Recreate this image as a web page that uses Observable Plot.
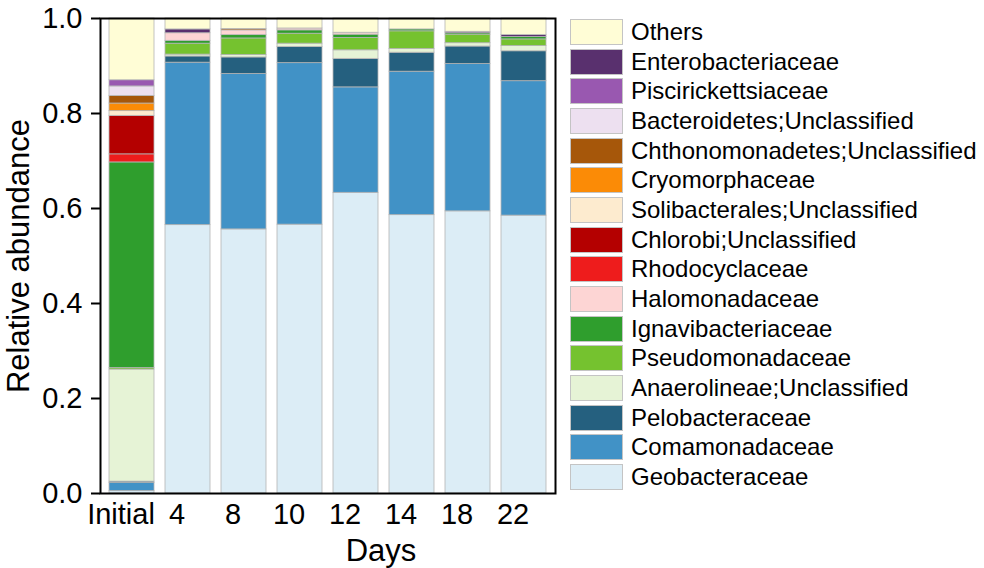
<!DOCTYPE html>
<html>
<head>
<meta charset="utf-8">
<script src="https://cdn.jsdelivr.net/npm/d3@7"></script>
<script src="https://cdn.jsdelivr.net/npm/@observablehq/plot@0.6"></script>
<style>
  html, body { margin: 0; padding: 0; background: #fff; }
  #wrap { position: relative; width: 984px; height: 568px; font-family: Arial, "Liberation Sans", sans-serif; }
  #chart { position: absolute; left: 0; top: 0; }
  #legend { position: absolute; left: 570px; top: 17px; }
  .row { display: flex; align-items: center; height: 29.7px; }
  .sw { width: 53px; height: 26px; box-sizing: border-box; border: 1px solid #c4c4c4; margin-right: 8px; }
  .lab { font-size: 24px; color: #000; white-space: nowrap; line-height: 1; }
</style>
</head>
<body>
<div id="wrap">
  <div id="chart"></div>
  <div id="legend"></div>
</div>
<script>
// Categories (x axis)
const days = ["Initial", "4", "8", "10", "12", "14", "18", "22"];

// Taxa, bottom of stack to top
const taxa = [
  "Geobacteraceae", "Comamonadaceae", "Pelobacteraceae", "Anaerolineae;Unclassified",
  "Pseudomonadaceae", "Ignavibacteriaceae", "Halomonadaceae", "Rhodocyclaceae",
  "Chlorobi;Unclassified", "Solibacterales;Unclassified", "Cryomorphaceae",
  "Chthonomonadetes;Unclassified", "Bacteroidetes;Unclassified", "Piscirickettsiaceae",
  "Enterobacteriaceae", "Others"
];
const colors = [
  "#dcedf6", "#4192c6", "#25607f", "#e6f3d6",
  "#75c22f", "#2f9e2d", "#fdd5d4", "#ee1c1c",
  "#b40000", "#fdebcf", "#fb8b06",
  "#a6570a", "#ede0f0", "#9958b0",
  "#59306e", "#fffdd6"
];

// Relative abundance per taxon, one value per day (Initial, 4, 8, 10, 12, 14, 18, 22)
const geobacteraceae     = [0.005, 0.565, 0.556, 0.566, 0.633, 0.586, 0.594, 0.585];
const comamonadaceae     = [0.017, 0.342, 0.327, 0.340, 0.222, 0.302, 0.310, 0.283];
const pelobacteraceae    = [0.003, 0.013, 0.035, 0.034, 0.060, 0.040, 0.037, 0.063];
const anaerolineae       = [0.236, 0.004, 0.005, 0.007, 0.018, 0.008, 0.007, 0.011];
const pseudomonadaceae   = [0.003, 0.023, 0.035, 0.021, 0.026, 0.037, 0.018, 0.014];
const ignavibacteriaceae = [0.433, 0.006, 0.007, 0.007, 0.007, 0.004, 0.003, 0.005];
const halomonadaceae     = [0.000, 0.016, 0.010, 0.004, 0.004, 0.000, 0.000, 0.000];
const rhodocyclaceae     = [0.017, 0.000, 0.000, 0.000, 0.000, 0.000, 0.000, 0.000];
const chlorobi           = [0.081, 0.000, 0.000, 0.000, 0.000, 0.000, 0.000, 0.000];
const solibacterales     = [0.010, 0.000, 0.000, 0.000, 0.000, 0.000, 0.000, 0.000];
const cryomorphaceae     = [0.016, 0.000, 0.000, 0.000, 0.000, 0.000, 0.000, 0.000];
const chthonomonadetes   = [0.016, 0.000, 0.003, 0.000, 0.000, 0.000, 0.000, 0.000];
const bacteroidetes      = [0.020, 0.000, 0.000, 0.000, 0.000, 0.000, 0.000, 0.000];
const piscirickettsiaceae= [0.013, 0.000, 0.000, 0.000, 0.000, 0.000, 0.000, 0.000];
const enterobacteriaceae = [0.000, 0.008, 0.000, 0.000, 0.000, 0.000, 0.003, 0.004];
const others             = [0.130, 0.023, 0.022, 0.021, 0.030, 0.023, 0.028, 0.035];

const yTicks = [0, 0.2, 0.4, 0.6, 0.8, 1.0];

const series = [
  geobacteraceae, comamonadaceae, pelobacteraceae, anaerolineae,
  pseudomonadaceae, ignavibacteriaceae, halomonadaceae, rhodocyclaceae,
  chlorobi, solibacterales, cryomorphaceae, chthonomonadetes,
  bacteroidetes, piscirickettsiaceae, enterobacteriaceae, others
];

const table = [];
taxa.forEach((t, i) => days.forEach((d, j) => table.push({day: d, taxon: t, value: series[i][j]})));

const chart = Plot.plot({
  width: 560,
  height: 568,
  marginLeft: 100,
  marginRight: 5,
  marginTop: 18,
  marginBottom: 75,
  style: {fontFamily: "Arial, 'Liberation Sans', sans-serif", background: "#fff", color: "#000"},
  x: {domain: days, paddingInner: 0.2, paddingOuter: 0.1, label: null},
  y: {domain: [0, 1], label: null},
  color: {domain: taxa, range: colors},
  marks: [
    Plot.barY(table, {x: "day", y: "value", fill: "taxon", stroke: "#b5b5b5", strokeWidth: 0.8}),
    Plot.axisY({ticks: yTicks, tickFormat: d3.format(".1f"), tickSize: 9, tickPadding: 9, strokeWidth: 2, fontSize: 29, label: null}),
    Plot.axisX({tickSize: 0, tickPadding: 10, dx: -11, fontSize: 29, label: null}),
    Plot.frame({stroke: "#000", strokeWidth: 2}),
    Plot.text(["Relative abundance"], {text: d => d, frameAnchor: "left", textAnchor: "middle", rotate: -90, dx: -72, lineAnchor: "bottom", fontSize: 31}),
    Plot.text(["Days"], {text: d => d, frameAnchor: "bottom", textAnchor: "middle", dx: 53, dy: 45, lineAnchor: "top", fontSize: 31})
  ]
});
document.getElementById("chart").appendChild(chart);

// Legend (top to bottom = reverse of stack order)
const legend = document.getElementById("legend");
for (let i = taxa.length - 1; i >= 0; i--) {
  const row = document.createElement("div");
  row.className = "row";
  const sw = document.createElement("div");
  sw.className = "sw";
  sw.style.background = colors[i];
  const lab = document.createElement("span");
  lab.className = "lab";
  lab.textContent = taxa[i];
  row.appendChild(sw);
  row.appendChild(lab);
  legend.appendChild(row);
}
</script>
</body>
</html>
